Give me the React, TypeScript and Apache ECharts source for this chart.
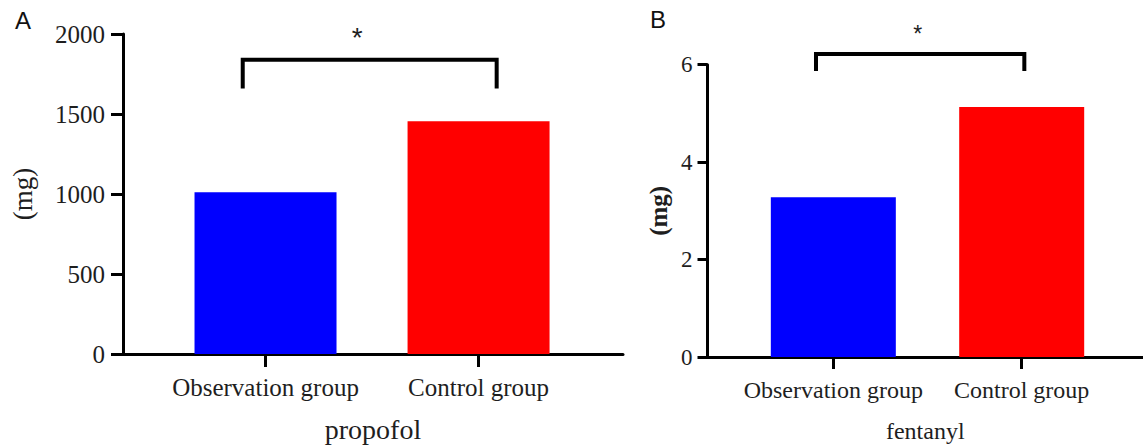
import React, { useEffect, useRef } from "react";
import * as echarts from "echarts";

const categories = ["Observation group", "Control group"];
const propofolValues = [1011, 1454];
const fentanylValues = [3.28, 5.13];
const propofolTicks = { min: 0, max: 2000, interval: 500 };
const fentanylTicks = { min: 0, max: 6, interval: 2 };
// [x0, x1, yTop, yBottom, starX, starY]
const propofolBracket = [[-0.107, 1.085, 1839, 1659, 0.43, 1994]];
const fentanylBracket = [[-0.092, 1.014, 6.22, 5.87, 0.448, 6.68]];
const barColors = ["#0000ff", "#ff0000"];

const SERIF = "'Liberation Serif', 'Times New Roman', serif";
const SANS = "'Liberation Sans', Arial, sans-serif";
const TXT = "#1e1e1e";

function bracketRenderer(lineWidth: number, starSize: number) {
  return (params: any, api: any) => {
    const x0 = api.value(0), x1 = api.value(1), yt = api.value(2), yb = api.value(3);
    const sx = api.value(4), sy = api.value(5);
    const p0 = api.coord([x0, yb]);
    const p1 = api.coord([x0, yt]);
    const p2 = api.coord([x1, yt]);
    const p3 = api.coord([x1, yb]);
    const s = api.coord([sx, sy]);
    return {
      type: "group",
      children: [
        {
          type: "polyline",
          shape: { points: [p0, p1, p2, p3] },
          style: { stroke: "#000", lineWidth, fill: null, lineJoin: "miter" },
        },
        {
          type: "text",
          x: s[0],
          y: s[1] + starSize * 0.1,
          style: {
            text: "*",
            fill: TXT,
            font: `${starSize}px ${SANS}`,
            align: "center",
            verticalAlign: "middle",
          },
        },
      ],
    };
  };
}

function xAxisCfg(gridIndex: number, min: number, max: number, name: string, fontSize: number, nameSize: number, nameGap: number, tickLen: number) {
  return {
    type: "value",
    gridIndex,
    min,
    max,
    splitLine: { show: false },
    axisLine: { onZero: false, lineStyle: { color: "#000", width: 3 } },
    axisTick: { show: true, customValues: [0, 1], length: tickLen, lineStyle: { color: "#000", width: 3 } },
    axisLabel: {
      customValues: [0, 1],
      formatter: (v: number) => categories[Math.round(v)] ?? "",
      color: TXT,
      fontFamily: SERIF,
      fontSize,
      margin: 21,
    },
    name,
    nameLocation: "middle",
    nameGap,
    nameTextStyle: { color: TXT, fontFamily: SERIF, fontSize: nameSize },
  };
}

function yAxisCfg(gridIndex: number, t: any, fontSize: number, margin: number, tickLen: number, nameGap: number, nameSize: number, bold: boolean) {
  return {
    type: "value",
    gridIndex,
    min: t.min,
    max: t.max,
    interval: t.interval,
    splitLine: { show: false },
    axisLine: { show: true, onZero: false, lineStyle: { color: "#000", width: 3 } },
    axisTick: { show: true, length: tickLen, lineStyle: { color: "#000", width: 3 } },
    axisLabel: { color: TXT, fontFamily: SERIF, fontSize, margin, formatter: (v: number) => String(v) },
    name: "(mg)",
    nameLocation: "middle",
    nameGap,
    nameRotate: 90,
    nameTextStyle: { color: TXT, fontFamily: SERIF, fontSize: nameSize, fontWeight: bold ? "bold" : "normal" },
  };
}

export default function App() {
  const ref = useRef<HTMLDivElement>(null);
  useEffect(() => {
    if (!ref.current) return;
    const chart = echarts.init(ref.current, null, { renderer: "svg" });
    chart.setOption({
      animation: false,
      backgroundColor: "#fff",
      title: [
        { text: "A", left: 10, top: 3, textStyle: { fontFamily: SANS, fontSize: 24, fontWeight: "normal", color: "#111" } },
        { text: "B", left: 645, top: 2, textStyle: { fontFamily: SANS, fontSize: 24, fontWeight: "normal", color: "#111" } },
      ],
      grid: [
        { left: 123, top: 34, width: 500, height: 323.7 },
        { left: 707.5, top: 64.7, width: 435.5, height: 293 },
      ],
      xAxis: [
        xAxisCfg(0, -0.669, 1.678, "propofol", 25, 28, 61, 13),
        xAxisCfg(1, -0.668, 1.644, "fentanyl", 24, 24, 62, 12),
      ],
      yAxis: [
        yAxisCfg(0, propofolTicks, 25, 18, 12, 87, 27, false),
        yAxisCfg(1, fentanylTicks, 23, 15, 10, 37, 25, true),
      ],
      series: [
        {
          type: "bar",
          xAxisIndex: 0,
          yAxisIndex: 0,
          barWidth: 142,
          data: propofolValues.map((v, i) => ({ value: [i, v], itemStyle: { color: barColors[i] } })),
        },
        {
          type: "bar",
          xAxisIndex: 1,
          yAxisIndex: 1,
          barWidth: 125,
          data: fentanylValues.map((v, i) => ({ value: [i, v], itemStyle: { color: barColors[i] } })),
        },
        {
          type: "custom",
          xAxisIndex: 0,
          yAxisIndex: 0,
          clip: false,
          encode: { x: [0, 1, 4], y: [2, 3, 5] },
          renderItem: bracketRenderer(4, 28),
          data: propofolBracket,
          z: 10,
        },
        {
          type: "custom",
          xAxisIndex: 1,
          yAxisIndex: 1,
          clip: false,
          encode: { x: [0, 1, 4], y: [2, 3, 5] },
          renderItem: bracketRenderer(4, 23),
          data: fentanylBracket,
          z: 10,
        },
      ],
    });
    return () => chart.dispose();
  }, []);
  return <div ref={ref} style={{ position: "fixed", left: 0, top: 0, width: 1143, height: 448 }} />;
}
